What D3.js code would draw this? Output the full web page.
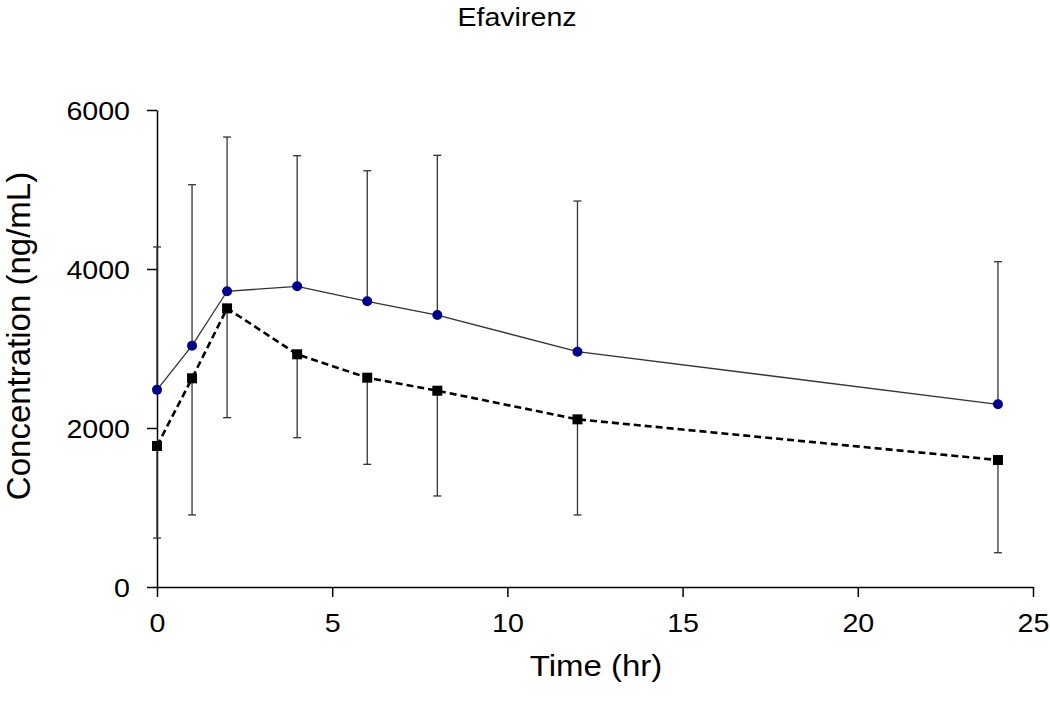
<!DOCTYPE html>
<html>
<head>
<meta charset="utf-8">
<script src="https://cdn.jsdelivr.net/npm/d3@7"></script>
<style>
  html, body { margin: 0; padding: 0; background: #fff; }
  svg { display: block; font-family: "Liberation Sans", Arial, sans-serif; }
</style>
</head>
<body>
<svg id="chart" width="1050" height="710"></svg>
<script>
// ---- Data ----
const times = [0, 1, 2, 4, 6, 8, 12, 24];
const seriesCircleMean = [2480, 3035, 3720, 3782, 3594, 3421, 2960, 2298];
const seriesCircleUpper = [4277, 5060, 5660, 5425, 5236, 5430, 4855, 4092];
const seriesSquareMean = [1774, 2625, 3505, 2927, 2633, 2469, 2109, 1597];
const seriesSquareLower = [616, 906, 2130, 1878, 1543, 1145, 906, 431];
const xTicks = [0, 5, 10, 15, 20, 25];
const yTicks = [0, 2000, 4000, 6000];
const titleText = "Efavirenz";
const xLabel = "Time (hr)";
const yLabel = "Concentration (ng/mL)";

(function () {
const svg = d3.select("#chart");
const mLeft = 157, mRight = 1033, mTop = 110, mBottom = 587;
const stretch = 1.1;

const x = d3.scaleLinear().domain([0, 25]).range([mLeft, mRight]);
const y = d3.scaleLinear().domain([0, 6000]).range([mBottom, mTop]);

// Title
svg.append("text")
  .attr("transform", `translate(517,26) scale(${stretch},1)`)
  .attr("text-anchor", "middle")
  .attr("font-size", 26)
  .attr("fill", "#000")
  .text(titleText);

// Axes
const xAxis = svg.append("g")
  .attr("transform", `translate(0,${mBottom})`)
  .call(d3.axisBottom(x).tickValues(xTicks).tickFormat(d3.format("d"))
    .tickSize(10).tickSizeOuter(0).tickPadding(8));
const yAxis = svg.append("g")
  .attr("transform", `translate(${mLeft},0)`)
  .call(d3.axisLeft(y).tickValues(yTicks).tickFormat(d3.format("d"))
    .tickSize(10).tickSizeOuter(0).tickPadding(14));

[xAxis, yAxis].forEach(g => {
  g.select(".domain").attr("stroke", "#000").attr("stroke-width", 1.5);
  g.selectAll(".tick line").attr("stroke", "#000").attr("stroke-width", 1.5);
  g.selectAll(".tick text").attr("font-size", 26).attr("fill", "#000")
    .attr("font-family", "'Liberation Sans', Arial, sans-serif");
});
xAxis.selectAll(".tick text").attr("y", 0).attr("dy", 0)
  .attr("transform", `translate(0,45) scale(${stretch},1)`);
yAxis.selectAll(".tick text").attr("x", 0).attr("dy", 0)
  .attr("transform", `translate(-27,9.5) scale(${stretch},1)`);

// Axis labels
svg.append("text")
  .attr("transform", `translate(596,676) scale(${stretch},1)`)
  .attr("text-anchor", "middle")
  .attr("font-size", 30)
  .attr("fill", "#000")
  .text(xLabel);
svg.append("text")
  .attr("transform", `translate(30,336) rotate(-90)`)
  .attr("text-anchor", "middle")
  .attr("font-size", 33)
  .attr("fill", "#000")
  .text(yLabel);

const circleData = times.map((t, i) => ({ t, v: seriesCircleMean[i], e: seriesCircleUpper[i] }));
const squareData = times.map((t, i) => ({ t, v: seriesSquareMean[i], e: seriesSquareLower[i] }));

const line = d3.line().x(d => x(d.t)).y(d => y(d.v));

svg.append("path")
  .datum(circleData)
  .attr("d", line)
  .attr("fill", "none")
  .attr("stroke", "#333")
  .attr("stroke-width", 1.3);

svg.append("path")
  .datum(squareData)
  .attr("d", line)
  .attr("fill", "none")
  .attr("stroke", "#000")
  .attr("stroke-width", 2.6)
  .attr("stroke-dasharray", "7,4");

function drawErrors(data) {
  const g = svg.append("g").attr("stroke", "#333").attr("stroke-width", 1.3);
  g.selectAll("line.v").data(data).join("line")
    .attr("x1", d => x(d.t)).attr("x2", d => x(d.t))
    .attr("y1", d => y(d.v)).attr("y2", d => y(d.e));
  g.selectAll("line.c").data(data).join("line")
    .attr("x1", d => x(d.t) - 4).attr("x2", d => x(d.t) + 4)
    .attr("y1", d => y(d.e)).attr("y2", d => y(d.e));
}
drawErrors(circleData);
drawErrors(squareData);

svg.append("g").selectAll("circle").data(circleData).join("circle")
  .attr("cx", d => x(d.t)).attr("cy", d => y(d.v))
  .attr("r", 5)
  .attr("fill", "#00008B");

svg.append("g").selectAll("rect").data(squareData).join("rect")
  .attr("x", d => x(d.t) - 5).attr("y", d => y(d.v) - 5)
  .attr("width", 10).attr("height", 10)
  .attr("fill", "#000");
})();
</script>
</body>
</html>
